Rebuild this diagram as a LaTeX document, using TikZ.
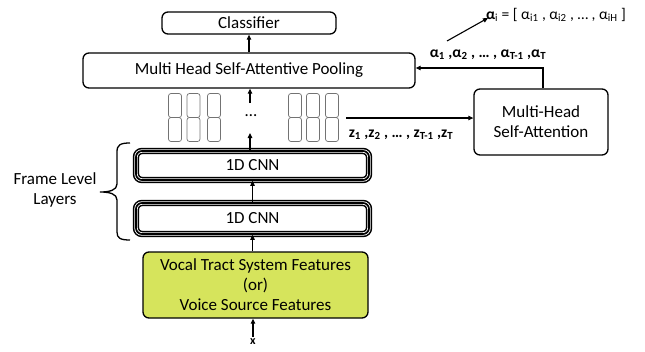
\documentclass[tikz,border=0pt]{standalone}
\usepackage{fontspec}
\setmainfont{Carlito}
\usetikzlibrary{arrows.meta}
\definecolor{featgreen}{RGB}{214,228,92}
\begin{document}
\begin{tikzpicture}[x=1pt,y=-1pt,
  every node/.style={font=\fontsize{17}{20}\selectfont},
  box/.style={draw, line width=1.3pt, rounded corners=6pt, inner sep=0pt, align=center},
  cnn/.style={preaction={fill=white, draw, line width=6.4pt},
              preaction={draw, white, line width=3.4pt},
              draw, line width=1.7pt, rounded corners=6pt, inner sep=0pt},
  vec/.style={draw=black!55, line width=0.7pt, rounded corners=2.5pt,
              minimum width=13pt, minimum height=24pt, inner sep=0pt},
  arr/.style={-{Triangle[length=5pt,width=4.5pt]}, line width=1.1pt},
  lbl/.style={font=\fontsize{15.5}{18}\selectfont\bfseries, inner sep=0pt}
]
\useasboundingbox (0,0) rectangle (645,351);

% main blocks
\node[box, minimum width=174pt, minimum height=22pt] (cls) at (249,23) {Classifier};
\node[box, minimum width=332pt, minimum height=35pt] (pool) at (249,70.5) {Multi Head Self-Attentive Pooling};
\node[box, minimum width=134pt, minimum height=66pt] (mhsa) at (541,122) {Multi-Head\\Self-Attention};
\node[cnn, minimum width=233pt, minimum height=29pt] (cnnA) at (252.5,165.5) {1D CNN};
\node[cnn, minimum width=233pt, minimum height=31pt] (cnnB) at (252.5,218.5) {1D CNN};
\node[box, fill=featgreen, minimum width=225pt, minimum height=66pt] (feat) at (255.5,285)
  {Vocal Tract System Features\\(or)\\Voice Source Features};
\node[font=\fontsize{12}{14}\selectfont\bfseries, inner sep=0pt] (xin) at (253,342) {x};

% frame level embeddings
\foreach \i/\cx in {1/175,2/193.5,3/214,4/295,5/313,6/332}{
  \node[vec] (v\i t) at (\cx,105.5) {};
  \node[vec] (v\i b) at (\cx,129.5) {};
}
\node[inner sep=0pt] (dots) at (251,116) {\dots};

% brace around the frame level layers
\draw[line width=1.3pt] (130,143) .. controls (120,143) and (117,145) .. (117,152)
  -- (117,184) .. controls (117,190) and (110,192) .. (100,192)
  .. controls (110,192) and (117,194) .. (117,200)
  -- (117,232) .. controls (117,238) and (120,240) .. (130,240);
\node[align=center, inner sep=0pt] (fll) at (55,190) {Frame Level\\Layers};

% connectors
\coordinate (upA) at (250,103);
\coordinate (upB) at (250,133);
\coordinate (zend) at (346,118);
\coordinate (bend) at (543,68);
\coordinate (aiS) at (447,41);
\coordinate (aiE) at (488,18);
\draw[arr, shorten <=2pt] (xin.north) -- (feat.south -| xin.north);
\draw[arr] (feat.north -| cnnB.south) -- (cnnB.south);
\draw[arr] (cnnB.north) -- (cnnA.south);
\draw[arr] (cnnA.north -| upB) -- (upB);
\draw[arr] (upA) -- (pool.south -| upA);
\draw[arr] (pool.north) -- (cls.south);
\draw[arr] (zend) -- (mhsa.west |- zend);
\draw[arr] (mhsa.north -| bend) -- (bend) -- (pool.east |- bend);
\draw[arr] (aiS) -- (aiE);

% labels
\node[lbl] (zl) at (401,135) {z\textsubscript{1} ,z\textsubscript{2} , … , z\textsubscript{T-1} ,z\textsubscript{T}};
\node[lbl] (al) at (488,55) {α\textsubscript{1} ,α\textsubscript{2} , … , α\textsubscript{T-1} ,α\textsubscript{T}};
\node[font=\fontsize{15.5}{18}\selectfont, inner sep=0pt] (ai) at (556,15)
  {\textbf{α}\textsubscript{i} = [ α\textsubscript{i1} , α\textsubscript{i2} , … , α\textsubscript{iH} ]};
\end{tikzpicture}
\end{document}
